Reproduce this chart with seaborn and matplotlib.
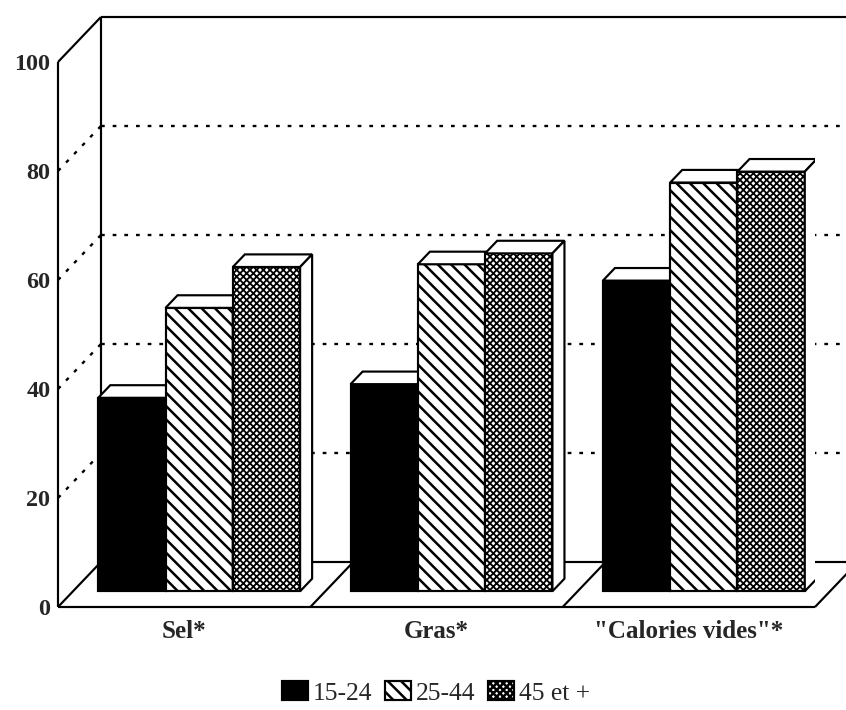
import matplotlib
matplotlib.use("Agg")
import matplotlib.pyplot as plt
import pandas as pd
import seaborn as sns
from matplotlib.patches import Polygon, Patch
from matplotlib.transforms import Affine2D

# ---- data -------------------------------------------------------------
categories = ['Sel*', 'Gras*', '"Calories vides"*']
age_groups = ['15-24', '25-44', '45 et +']
sel = [35.5, 52, 59.5]
gras = [38, 60, 62]
calories = [57, 75, 77]
y_ticks = [0, 20, 40, 60, 80, 100]

df = pd.DataFrame({
    "categorie": [c for c in categories for _ in age_groups],
    "age": age_groups * len(categories),
    "pourcentage": sel + gras + calories,
})

# ---- style ------------------------------------------------------------
DPI = 120
sns.set_style("white")
plt.rcParams["font.family"] = ["Liberation Serif", "DejaVu Serif"]
plt.rcParams["hatch.linewidth"] = 1.5

fills = {"15-24": "black", "25-44": "white", "45 et +": "white"}
hatches = {"15-24": None, "25-44": "\\\\\\", "45 et +": "xxxxxx"}
hatch_lw = {"15-24": 1.5, "25-44": 1.5, "45 et +": 1.1}

# depth of the box (data units) and placement of the bars within it
DEPTH_X, DEPTH_Y = 0.17, 8.25
BAR_Z0, BAR_DEPTH = 0.35, 0.28
LW = 1.3

fig = plt.figure(figsize=(846 / DPI, 710 / DPI), dpi=DPI)
ax = fig.add_axes([58 / 846, 103 / 710, 757 / 846, 545 / 710])

sns.barplot(data=df, x="categorie", y="pourcentage", hue="age",
            order=categories, hue_order=age_groups,
            palette=[fills[a] for a in age_groups],
            edgecolor="black", linewidth=LW, errorbar=None,
            legend=False, ax=ax, saturation=1)

ax.set_xlim(-0.5, 2.5)
ax.set_ylim(0, 100)
for s in ax.spines.values():
    s.set_visible(False)

# ---- box: walls, floor and grid -------------------------------------
x0, x1 = -0.5, 2.5
bx0, bx1 = x0 + DEPTH_X, x1 + DEPTH_X
line_kw = dict(color="black", lw=LW, clip_on=False, zorder=1,
               solid_capstyle="butt")
ax.plot([x0, x0], [0, 100], **line_kw)
ax.plot([x0, bx0], [100, 100 + DEPTH_Y], **line_kw)
ax.plot([bx0, bx0], [DEPTH_Y, 100 + DEPTH_Y], **line_kw)
ax.plot([bx0, bx1], [100 + DEPTH_Y, 100 + DEPTH_Y], **line_kw)
ax.plot([bx1, bx1], [DEPTH_Y, 100 + DEPTH_Y], **line_kw)
ax.plot([bx0, bx1], [DEPTH_Y, DEPTH_Y], **line_kw)
ax.plot([x0, x1], [0, 0], **line_kw)
for xb in [x0, 0.5, 1.5, x1]:
    ax.plot([xb, xb + DEPTH_X], [0, DEPTH_Y], **line_kw)

dot_kw = dict(color="black", lw=1.4, clip_on=False, zorder=1,
              linestyle=(0, (1.6, 3.4)))
for v in y_ticks[1:-1]:
    ax.plot([x0, bx0], [v, v + DEPTH_Y], **dot_kw)
    ax.plot([bx0, bx1], [v + DEPTH_Y, v + DEPTH_Y], **dot_kw)

# ---- bars: front face shifted into the box, plus top and side faces --
tx, ty = BAR_Z0 * DEPTH_X, BAR_Z0 * DEPTH_Y
ddx, ddy = BAR_DEPTH * DEPTH_X, BAR_DEPTH * DEPTH_Y
shift = Affine2D().translate(tx, ty) + ax.transData

bars = []
for container, age in zip(ax.containers, age_groups):
    for rect in container:
        rect.set_hatch(hatches[age])
        if hasattr(rect, "set_hatch_linewidth"):
            rect.set_hatch_linewidth(hatch_lw[age])
        bars.append(rect)
bars.sort(key=lambda r: r.get_x())

for k, rect in enumerate(bars):
    z = 3 + 3 * k
    rect.set_transform(shift)
    rect.set_zorder(z)
    xl = rect.get_x() + tx
    xr = xl + rect.get_width()
    yb = ty
    yt = rect.get_height() + ty
    top = Polygon([(xl, yt), (xr, yt), (xr + ddx, yt + ddy), (xl + ddx, yt + ddy)],
                  closed=True, facecolor="white", edgecolor="black",
                  lw=LW, zorder=z + 1, joinstyle="miter")
    side = Polygon([(xr, yb), (xr + ddx, yb + ddy), (xr + ddx, yt + ddy), (xr, yt)],
                   closed=True, facecolor="white", edgecolor="black",
                   lw=LW, zorder=z + 1, joinstyle="miter")
    ax.add_patch(top)
    ax.add_patch(side)

# ---- labels -----------------------------------------------------------
ax.set_yticks(y_ticks)
ax.set_yticklabels([str(t) for t in y_ticks], fontsize=14.5, fontweight="bold")
ax.set_xticks(range(len(categories)))
ax.set_xticklabels(categories, fontsize=15, fontweight="bold")
ax.tick_params(axis="y", length=0, pad=4.6)
ax.tick_params(axis="x", length=0, pad=7.5)
ax.set_xlabel("")
ax.set_ylabel("")

handles = [Patch(facecolor=fills[a], edgecolor="black", hatch=hatches[a],
                 lw=LW, label=a) for a in age_groups]
fig.legend(handles=handles, loc="center", ncol=3, frameon=False,
           bbox_to_anchor=(436 / 846, 1 - 693 / 710),
           prop={"family": ["Liberation Serif"], "size": 15.4},
           handlelength=1.0, handleheight=0.75, handletextpad=0.2,
           columnspacing=0.5, borderaxespad=0)

fig.savefig("out.png", dpi=DPI, facecolor="white")
